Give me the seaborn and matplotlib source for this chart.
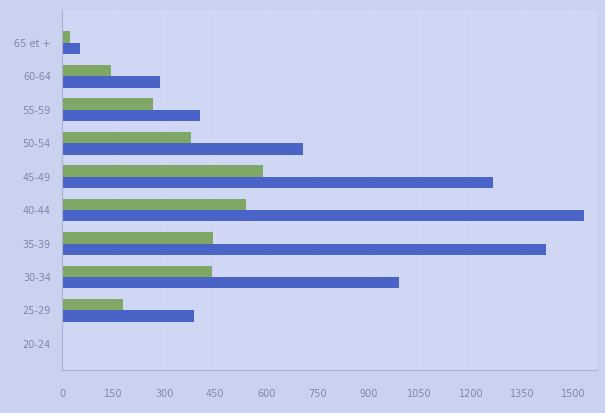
import pandas as pd
import seaborn as sns
import matplotlib.pyplot as plt

ages = ["65 et +", "60-64", "55-59", "50-54", "45-49", "40-44", "35-39", "30-34", "25-29", "20-24"]
serie_verte = [24, 144, 268, 379, 591, 541, 444, 441, 179, 0]
serie_bleue = [53, 288, 406, 706, 1265, 1532, 1420, 988, 388, 0]
xticks = [0, 150, 300, 450, 600, 750, 900, 1050, 1200, 1350, 1500]

df = pd.DataFrame({
    "age": ages * 2,
    "valeur": serie_verte + serie_bleue,
    "serie": ["verte"] * len(ages) + ["bleue"] * len(ages),
})

sns.set_style("white")
fig = plt.figure(figsize=(6.05, 4.13), dpi=100, facecolor="#c9d2ef")
ax = fig.add_axes([0.1025, 0.104, 0.884, 0.872])
ax.set_facecolor("#cfd7f4")

sns.barplot(data=df, x="valeur", y="age", hue="serie", order=ages,
            hue_order=["verte", "bleue"],
            palette={"verte": "#7fa765", "bleue": "#4a63c6"},
            width=0.68, legend=False, ax=ax, saturation=1, linewidth=0)

ax.set_xlim(0, 1570)
ax.set_ylim(9.78, -0.98)
ax.set_xticks(xticks)
ax.set_xticklabels([str(t) for t in xticks])
for t in xticks[1:]:
    ax.axvline(t, color="#d6dcf5", lw=0.8, zorder=0)
ax.set_xlabel("")
ax.set_ylabel("")
ax.tick_params(axis="x", colors="#7f88ad", labelsize=7, length=4, pad=10)
ax.tick_params(axis="y", colors="#7f88ad", labelsize=7, length=0, pad=8)
for s in ["top", "right"]:
    ax.spines[s].set_visible(False)
ax.spines["left"].set_color("#a9b2d4")
ax.spines["bottom"].set_color("#a9b2d4")

fig.savefig("out.png", dpi=100, facecolor=fig.get_facecolor())
